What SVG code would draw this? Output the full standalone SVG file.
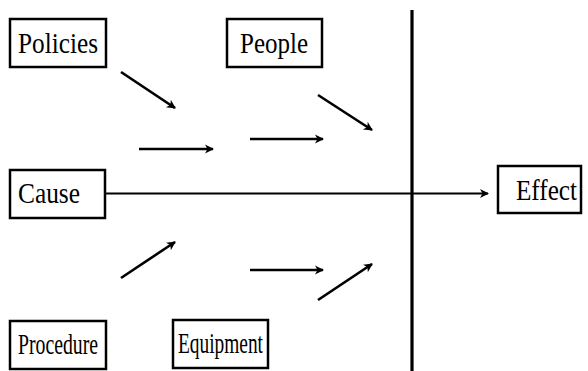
<svg xmlns="http://www.w3.org/2000/svg" width="588" height="371" viewBox="0 0 588 371">
<style>
.box{fill:#fff;stroke:#000;stroke-width:2.5}
.arr{stroke:#000;stroke-width:2.6;fill:none;marker-end:url(#ah)}
</style>
<defs>
<marker id="ah" markerWidth="12" markerHeight="12" refX="8" refY="5" orient="auto" markerUnits="userSpaceOnUse">
<path d="M0,0.5 L9,5 L0,9.5 L2.5,5 Z" fill="#000"/>
</marker>
</defs>
<rect width="588" height="371" fill="#fff"/>
<g id="connectors">
<line x1="412" y1="10" x2="412" y2="371" stroke="#000" stroke-width="3.2"/>
<line x1="106" y1="193.5" x2="488" y2="193.5" stroke="#000" stroke-width="2" marker-end="url(#ah)"/>
<line class="arr" x1="121" y1="72" x2="175" y2="108"/>
<line class="arr" x1="139" y1="149" x2="213" y2="149"/>
<line class="arr" x1="250" y1="139" x2="323" y2="139"/>
<line class="arr" x1="318" y1="95" x2="372" y2="130"/>
<line class="arr" x1="121" y1="278" x2="175" y2="242"/>
<line class="arr" x1="250" y1="270" x2="323" y2="270"/>
<line class="arr" x1="318" y1="300" x2="372" y2="264"/>
</g>
<g font-family="Liberation Serif, serif" font-size="30" fill="#000">
<g id="policies"><rect class="box" x="10" y="19" width="96" height="48"/><text x="18" y="53" textLength="80" lengthAdjust="spacingAndGlyphs">Policies</text></g>
<g id="people"><rect class="box" x="227" y="19" width="95" height="48"/><text x="240" y="53" textLength="68" lengthAdjust="spacingAndGlyphs">People</text></g>
<g id="cause"><rect class="box" x="10" y="170" width="95" height="48"/><text x="18" y="203" textLength="62" lengthAdjust="spacingAndGlyphs">Cause</text></g>
<g id="effect"><rect class="box" x="498" y="166" width="83" height="47"/><text x="516" y="200" textLength="61" lengthAdjust="spacingAndGlyphs">Effect</text></g>
<g id="procedure"><rect class="box" x="10" y="321" width="96" height="48"/><text x="18" y="354" textLength="80" lengthAdjust="spacingAndGlyphs">Procedure</text></g>
<g id="equipment"><rect class="box" x="173" y="320" width="95" height="48"/><text x="178" y="353" textLength="85" lengthAdjust="spacingAndGlyphs">Equipment</text></g>
</g>
</svg>
